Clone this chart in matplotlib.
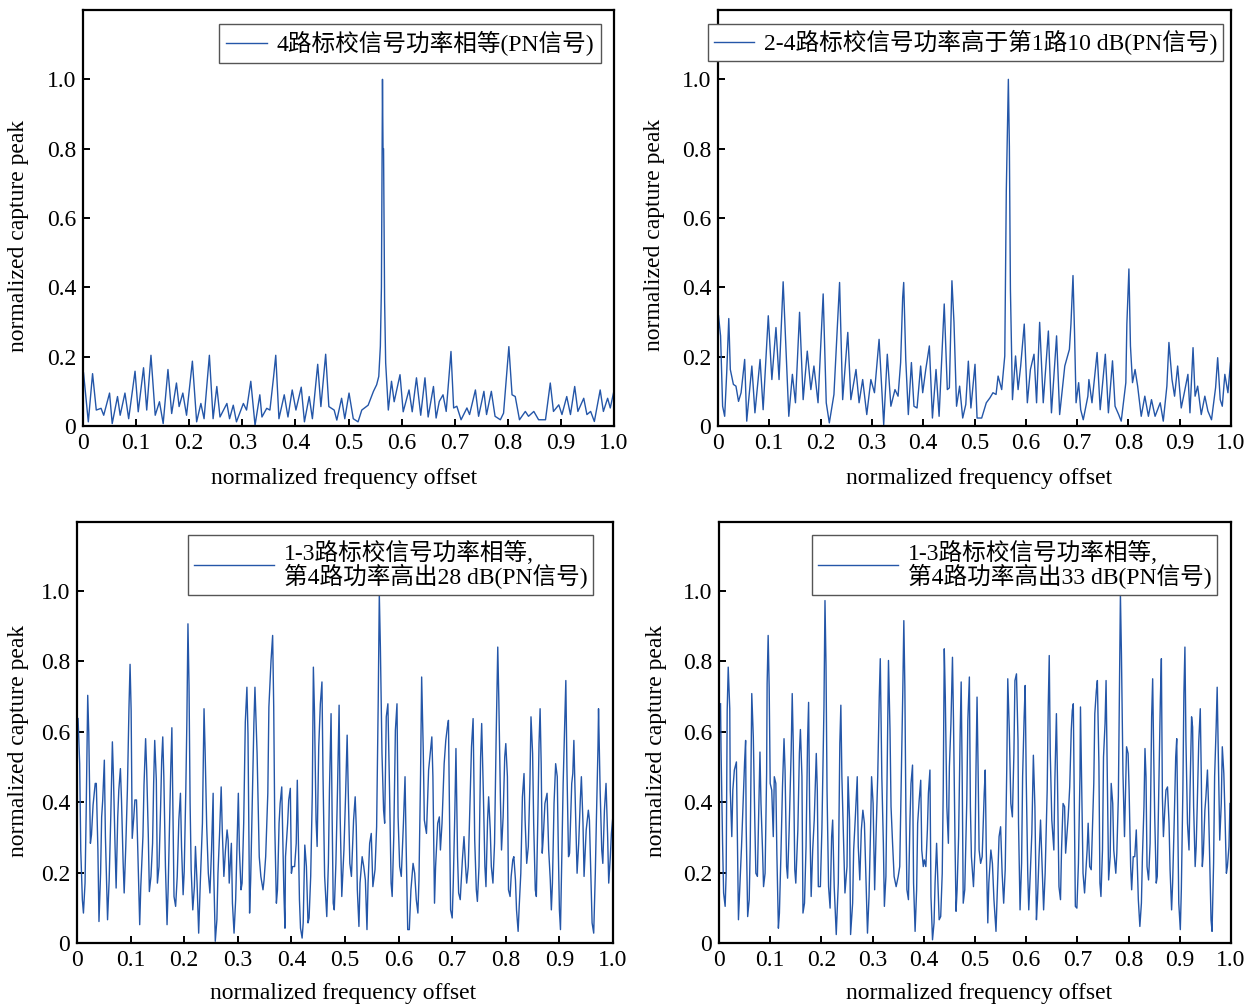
import matplotlib
matplotlib.use('Agg')
import matplotlib.pyplot as plt

# ---------------- data ----------------
x_ticks = [0, 0.1, 0.2, 0.3, 0.4, 0.5, 0.6, 0.7, 0.8, 0.9, 1.0]
x_tick_labels = ['0', '0.1', '0.2', '0.3', '0.4', '0.5', '0.6', '0.7', '0.8', '0.9', '1.0']
y_ticks = [0, 0.2, 0.4, 0.6, 0.8, 1.0]
y_tick_labels = ['0', '0.2', '0.4', '0.6', '0.8', '1.0']
x_label = 'normalized frequency offset'
y_label = 'normalized capture peak'
legend_labels = [
    '4路标校信号功率相等(PN信号)',
    '2-4路标校信号功率高于第1路10 dB(PN信号)',
    '1-3路标校信号功率相等,\n第4路功率高出28 dB(PN信号)',
    '1-3路标校信号功率相等,\n第4路功率高出33 dB(PN信号)',
]

p1_x = [0.001,0.010,0.018,0.025,0.034,0.039,0.050,0.055,0.065,0.070,
        0.079,0.086,0.098,0.104,0.114,0.120,0.128,0.136,0.144,0.151,
        0.160,0.167,0.176,0.181,0.188,0.195,0.206,0.214,0.222,0.228,
        0.238,0.245,0.252,0.258,0.271,0.276,0.283,0.289,0.302,0.308,
        0.316,0.324,0.333,0.337,0.346,0.352,0.359,0.363,0.369,0.379,
        0.386,0.394,0.401,0.411,0.417,0.426,0.432,0.442,0.448,0.457,
        0.463,0.473,0.478,0.487,0.493,0.501,0.509,0.518,0.525,0.537,
        0.547,0.553,0.557,0.560,0.562,0.564,0.565,0.566,0.568,0.570,
        0.575,0.581,0.586,0.597,0.603,0.614,0.620,0.628,0.636,0.644,
        0.650,0.660,0.665,0.671,0.678,0.684,0.693,0.698,0.704,0.712,
        0.723,0.728,0.739,0.745,0.755,0.760,0.769,0.776,0.786,0.792,
        0.802,0.808,0.814,0.822,0.833,0.839,0.849,0.858,0.871,0.880,
        0.886,0.896,0.902,0.911,0.918,0.926,0.932,0.943,0.949,0.956,
        0.963,0.974,0.980,0.988,0.993,0.999]
p1_y = [0.153,0.012,0.151,0.046,0.051,0.031,0.095,0.007,0.085,0.031,
        0.095,0.021,0.158,0.041,0.168,0.046,0.204,0.031,0.070,0.007,
        0.163,0.036,0.124,0.056,0.095,0.031,0.187,0.012,0.065,0.021,
        0.204,0.021,0.114,0.026,0.065,0.021,0.060,0.012,0.065,0.046,
        0.129,0.002,0.090,0.026,0.051,0.046,0.143,0.204,0.021,0.090,
        0.026,0.104,0.046,0.112,0.012,0.085,0.021,0.178,0.056,0.207,
        0.056,0.046,0.017,0.080,0.021,0.095,0.021,0.012,0.046,0.060,
        0.100,0.119,0.143,0.230,0.400,1.000,0.800,0.800,0.360,0.182,
        0.046,0.129,0.070,0.148,0.041,0.104,0.041,0.139,0.031,0.139,
        0.026,0.114,0.023,0.071,0.090,0.042,0.215,0.052,0.057,0.018,
        0.052,0.033,0.104,0.028,0.100,0.033,0.100,0.028,0.018,0.037,
        0.229,0.090,0.085,0.018,0.042,0.028,0.042,0.018,0.018,0.124,
        0.042,0.061,0.033,0.085,0.033,0.114,0.042,0.080,0.033,0.042,
        0.013,0.104,0.042,0.080,0.052,0.095]

p2_x = [0.001,0.005,0.009,0.013,0.017,0.021,0.024,0.030,0.035,0.040,
        0.045,0.052,0.056,0.066,0.072,0.082,0.088,0.098,0.105,0.113,
        0.119,0.127,0.134,0.138,0.145,0.151,0.159,0.166,0.174,0.181,
        0.187,0.195,0.205,0.211,0.217,0.226,0.237,0.243,0.253,0.259,
        0.269,0.275,0.282,0.290,0.298,0.305,0.314,0.323,0.330,0.337,
        0.345,0.351,0.356,0.360,0.362,0.366,0.371,0.377,0.382,0.388,
        0.395,0.399,0.405,0.412,0.418,0.425,0.431,0.437,0.441,0.447,
        0.451,0.456,0.460,0.465,0.471,0.477,0.483,0.488,0.493,0.501,
        0.505,0.514,0.523,0.530,0.536,0.542,0.546,0.553,0.559,0.562,
        0.566,0.568,0.570,0.574,0.580,0.585,0.590,0.597,0.603,0.609,
        0.616,0.621,0.627,0.634,0.644,0.650,0.660,0.666,0.676,0.685,
        0.688,0.692,0.695,0.698,0.703,0.707,0.712,0.721,0.723,0.729,
        0.739,0.745,0.755,0.761,0.769,0.774,0.781,0.786,0.795,0.797,
        0.801,0.804,0.808,0.813,0.818,0.825,0.832,0.839,0.845,0.852,
        0.862,0.868,0.875,0.879,0.885,0.890,0.896,0.903,0.909,0.916,
        0.920,0.926,0.930,0.935,0.942,0.949,0.955,0.962,0.970,0.974,
        0.979,0.983,0.988,0.994,0.999]
p2_y = [0.318,0.260,0.057,0.028,0.154,0.310,0.163,0.120,0.115,0.071,
        0.096,0.192,0.014,0.173,0.038,0.192,0.047,0.318,0.134,0.284,
        0.134,0.416,0.173,0.028,0.149,0.067,0.328,0.076,0.216,0.105,
        0.173,0.067,0.381,0.067,0.009,0.091,0.414,0.076,0.270,0.076,
        0.163,0.067,0.134,0.033,0.134,0.096,0.250,0.004,0.207,0.057,
        0.105,0.086,0.183,0.371,0.414,0.192,0.033,0.183,0.057,0.052,
        0.173,0.096,0.163,0.231,0.023,0.163,0.028,0.221,0.352,0.105,
        0.110,0.419,0.299,0.057,0.115,0.023,0.062,0.187,0.052,0.178,
        0.023,0.023,0.067,0.081,0.096,0.091,0.144,0.105,0.202,0.680,
        1.000,0.806,0.395,0.076,0.202,0.105,0.173,0.294,0.067,0.163,
        0.207,0.067,0.299,0.067,0.274,0.038,0.260,0.033,0.173,0.221,
        0.294,0.434,0.269,0.067,0.125,0.047,0.018,0.086,0.134,0.067,
        0.212,0.047,0.207,0.038,0.188,0.057,0.033,0.014,0.125,0.294,
        0.453,0.231,0.125,0.163,0.115,0.028,0.086,0.028,0.076,0.028,
        0.067,0.014,0.115,0.241,0.134,0.086,0.173,0.052,0.096,0.149,
        0.038,0.226,0.086,0.115,0.033,0.086,0.043,0.018,0.111,0.197,
        0.076,0.057,0.149,0.096,0.182]

p3_x = [0.002,0.005,0.007,0.010,0.012,0.015,0.017,0.020,0.022,0.025,
        0.027,0.030,0.034,0.036,0.039,0.041,0.044,0.046,0.048,0.051,
        0.053,0.057,0.060,0.063,0.066,0.068,0.071,0.073,0.076,0.078,
        0.081,0.083,0.086,0.088,0.091,0.094,0.097,0.099,0.101,0.103,
        0.106,0.108,0.111,0.114,0.117,0.119,0.123,0.125,0.128,0.130,
        0.133,0.135,0.138,0.141,0.143,0.145,0.148,0.150,0.153,0.156,
        0.158,0.160,0.162,0.165,0.168,0.170,0.173,0.175,0.177,0.179,
        0.181,0.184,0.187,0.190,0.193,0.195,0.198,0.200,0.203,0.205,
        0.207,0.209,0.211,0.213,0.216,0.219,0.221,0.224,0.227,0.230,
        0.234,0.237,0.239,0.242,0.245,0.248,0.251,0.254,0.255,0.258,
        0.261,0.263,0.266,0.269,0.271,0.274,0.277,0.280,0.282,0.284,
        0.288,0.290,0.293,0.296,0.299,0.301,0.303,0.306,0.308,0.311,
        0.314,0.317,0.319,0.322,0.324,0.327,0.330,0.332,0.336,0.340,
        0.343,0.347,0.349,0.352,0.356,0.358,0.362,0.365,0.367,0.369,
        0.372,0.374,0.377,0.379,0.382,0.386,0.388,0.389,0.393,0.395,
        0.398,0.400,0.402,0.406,0.409,0.411,0.415,0.417,0.420,0.422,
        0.425,0.428,0.431,0.433,0.436,0.439,0.441,0.443,0.446,0.448,
        0.451,0.454,0.457,0.459,0.462,0.466,0.469,0.471,0.474,0.476,
        0.478,0.480,0.483,0.486,0.489,0.491,0.494,0.498,0.501,0.504,
        0.506,0.509,0.512,0.516,0.519,0.521,0.523,0.526,0.528,0.532,
        0.535,0.538,0.541,0.543,0.546,0.549,0.552,0.556,0.559,0.562,
        0.564,0.566,0.569,0.572,0.574,0.577,0.580,0.583,0.586,0.588,
        0.591,0.594,0.597,0.599,0.602,0.605,0.609,0.612,0.614,0.617,
        0.620,0.623,0.627,0.630,0.633,0.636,0.638,0.641,0.643,0.646,
        0.648,0.652,0.656,0.662,0.664,0.667,0.669,0.673,0.676,0.678,
        0.681,0.685,0.688,0.691,0.693,0.695,0.697,0.700,0.702,0.705,
        0.707,0.710,0.712,0.715,0.719,0.722,0.725,0.727,0.730,0.733,
        0.736,0.739,0.742,0.745,0.747,0.750,0.753,0.755,0.758,0.761,
        0.763,0.766,0.768,0.771,0.773,0.776,0.779,0.782,0.785,0.787,
        0.790,0.792,0.795,0.798,0.800,0.803,0.805,0.808,0.810,0.813,
        0.815,0.818,0.820,0.823,0.825,0.828,0.831,0.834,0.836,0.839,
        0.842,0.845,0.847,0.850,0.852,0.855,0.857,0.860,0.862,0.864,
        0.866,0.868,0.870,0.873,0.877,0.880,0.883,0.885,0.887,0.890,
        0.893,0.896,0.898,0.900,0.902,0.904,0.907,0.910,0.912,0.914,
        0.917,0.919,0.923,0.925,0.927,0.930,0.933,0.936,0.939,0.941,
        0.944,0.946,0.950,0.954,0.956,0.959,0.961,0.964,0.967,0.969,
        0.972,0.973,0.976,0.979,0.981,0.984,0.987,0.990,0.992,0.995,
        0.997,1.000]
p3_y = [0.637,0.509,0.264,0.123,0.085,0.170,0.358,0.703,0.594,0.283,
        0.307,0.392,0.453,0.453,0.264,0.061,0.198,0.358,0.406,0.519,
        0.302,0.066,0.179,0.358,0.571,0.472,0.274,0.156,0.358,0.434,
        0.495,0.406,0.231,0.142,0.274,0.434,0.670,0.791,0.660,0.297,
        0.358,0.406,0.406,0.226,0.052,0.160,0.302,0.448,0.580,0.491,
        0.307,0.146,0.189,0.283,0.453,0.575,0.462,0.170,0.217,0.387,
        0.519,0.585,0.472,0.217,0.052,0.151,0.358,0.500,0.611,0.377,
        0.132,0.104,0.189,0.349,0.425,0.274,0.137,0.203,0.434,0.632,
        0.906,0.731,0.396,0.208,0.094,0.160,0.274,0.170,0.028,0.170,
        0.340,0.665,0.547,0.330,0.198,0.142,0.264,0.425,0.208,0.005,
        0.066,0.198,0.311,0.443,0.321,0.189,0.264,0.321,0.292,0.170,
        0.283,0.113,0.028,0.123,0.302,0.425,0.264,0.151,0.170,0.340,
        0.627,0.726,0.594,0.085,0.179,0.406,0.623,0.726,0.538,0.245,
        0.189,0.151,0.179,0.245,0.425,0.670,0.802,0.873,0.670,0.330,
        0.113,0.151,0.340,0.396,0.443,0.142,0.042,0.245,0.340,0.406,
        0.439,0.198,0.217,0.217,0.283,0.462,0.123,0.042,0.014,0.057,
        0.278,0.217,0.057,0.071,0.189,0.425,0.783,0.660,0.349,0.274,
        0.557,0.679,0.741,0.472,0.189,0.075,0.226,0.434,0.651,0.358,
        0.113,0.094,0.226,0.434,0.675,0.358,0.132,0.264,0.415,0.590,
        0.434,0.226,0.189,0.349,0.415,0.330,0.151,0.047,0.170,0.245,
        0.217,0.179,0.038,0.170,0.283,0.311,0.160,0.208,0.330,0.689,
        0.991,0.840,0.538,0.377,0.340,0.642,0.679,0.443,0.170,0.132,
        0.302,0.604,0.679,0.358,0.217,0.189,0.340,0.472,0.283,0.038,
        0.038,0.151,0.226,0.198,0.123,0.085,0.179,0.481,0.755,0.547,
        0.349,0.311,0.491,0.585,0.472,0.113,0.217,0.340,0.358,0.264,
        0.340,0.509,0.575,0.613,0.632,0.358,0.094,0.071,0.170,0.377,
        0.552,0.245,0.142,0.123,0.236,0.302,0.217,0.170,0.217,0.387,
        0.557,0.637,0.292,0.151,0.118,0.217,0.528,0.623,0.434,0.217,
        0.160,0.349,0.415,0.321,0.217,0.170,0.283,0.585,0.840,0.689,
        0.406,0.264,0.358,0.528,0.566,0.472,0.151,0.132,0.189,0.236,
        0.245,0.179,0.094,0.033,0.104,0.198,0.415,0.481,0.349,0.226,
        0.274,0.453,0.642,0.538,0.340,0.151,0.132,0.377,0.566,0.665,
        0.509,0.255,0.302,0.396,0.425,0.264,0.179,0.094,0.170,0.396,
        0.509,0.472,0.264,0.094,0.038,0.198,0.453,0.623,0.745,0.500,
        0.245,0.255,0.453,0.481,0.575,0.377,0.198,0.283,0.406,0.472,
        0.340,0.189,0.321,0.377,0.349,0.170,0.057,0.028,0.198,0.349,
        0.557,0.665,0.434,0.264,0.226,0.377,0.453,0.302,0.170,0.245,
        0.311,0.363]

p4_x = [0.003,0.004,0.007,0.009,0.012,0.014,0.016,0.018,0.021,0.022,
        0.025,0.027,0.030,0.034,0.036,0.038,0.041,0.044,0.047,0.050,
        0.052,0.053,0.056,0.059,0.061,0.064,0.067,0.070,0.072,0.075,
        0.078,0.080,0.082,0.085,0.087,0.090,0.093,0.094,0.096,0.098,
        0.100,0.103,0.106,0.108,0.111,0.113,0.116,0.118,0.121,0.124,
        0.127,0.129,0.132,0.134,0.137,0.141,0.143,0.145,0.148,0.150,
        0.154,0.157,0.159,0.162,0.164,0.167,0.170,0.173,0.175,0.177,
        0.180,0.183,0.186,0.190,0.192,0.194,0.198,0.201,0.205,0.207,
        0.209,0.211,0.214,0.217,0.220,0.222,0.225,0.229,0.233,0.236,
        0.238,0.240,0.244,0.246,0.250,0.252,0.255,0.257,0.261,0.263,
        0.266,0.270,0.272,0.275,0.278,0.281,0.284,0.287,0.290,0.293,
        0.296,0.298,0.301,0.304,0.307,0.310,0.313,0.315,0.318,0.321,
        0.323,0.326,0.328,0.331,0.334,0.336,0.339,0.342,0.346,0.350,
        0.353,0.356,0.359,0.361,0.363,0.365,0.367,0.370,0.373,0.375,
        0.378,0.380,0.383,0.386,0.388,0.391,0.394,0.396,0.399,0.401,
        0.404,0.407,0.409,0.412,0.414,0.417,0.420,0.422,0.425,0.427,
        0.430,0.433,0.436,0.438,0.440,0.442,0.445,0.448,0.450,0.453,
        0.456,0.458,0.461,0.463,0.465,0.468,0.471,0.473,0.475,0.477,
        0.480,0.484,0.486,0.489,0.491,0.493,0.497,0.500,0.502,0.504,
        0.506,0.508,0.511,0.514,0.518,0.520,0.522,0.525,0.527,0.531,
        0.534,0.537,0.541,0.544,0.547,0.550,0.553,0.556,0.559,0.562,
        0.564,0.567,0.570,0.573,0.576,0.578,0.581,0.584,0.585,0.588,
        0.591,0.593,0.596,0.598,0.600,0.603,0.605,0.608,0.611,0.614,
        0.617,0.620,0.622,0.625,0.628,0.631,0.634,0.637,0.641,0.643,
        0.645,0.647,0.650,0.654,0.656,0.659,0.661,0.664,0.667,0.669,
        0.672,0.675,0.677,0.682,0.685,0.688,0.690,0.692,0.694,0.696,
        0.699,0.702,0.705,0.706,0.709,0.711,0.714,0.716,0.719,0.721,
        0.724,0.727,0.729,0.732,0.734,0.737,0.739,0.742,0.744,0.746,
        0.749,0.751,0.754,0.756,0.759,0.761,0.764,0.766,0.769,0.771,
        0.775,0.777,0.780,0.782,0.784,0.786,0.789,0.792,0.794,0.796,
        0.799,0.801,0.804,0.806,0.809,0.812,0.815,0.817,0.819,0.822,
        0.825,0.827,0.830,0.832,0.834,0.836,0.839,0.842,0.845,0.847,
        0.849,0.851,0.854,0.856,0.859,0.862,0.864,0.866,0.868,0.871,
        0.873,0.876,0.879,0.881,0.884,0.886,0.889,0.892,0.894,0.896,
        0.898,0.901,0.903,0.906,0.908,0.910,0.912,0.915,0.918,0.920,
        0.923,0.925,0.927,0.930,0.932,0.934,0.937,0.940,0.942,0.944,
        0.946,0.949,0.951,0.954,0.956,0.959,0.961,0.963,0.966,0.968,
        0.971,0.973,0.976,0.978,0.981,0.983,0.986,0.988,0.991,0.993,
        0.996,0.998]
p4_y = [0.679,0.547,0.283,0.142,0.104,0.198,0.660,0.783,0.665,0.434,
        0.302,0.434,0.491,0.514,0.283,0.066,0.170,0.274,0.396,0.514,
        0.575,0.340,0.075,0.123,0.274,0.708,0.585,0.340,0.198,0.189,
        0.396,0.542,0.396,0.264,0.160,0.198,0.481,0.736,0.873,0.726,
        0.453,0.434,0.302,0.472,0.453,0.255,0.042,0.085,0.255,0.443,
        0.580,0.491,0.217,0.184,0.321,0.547,0.708,0.566,0.208,0.170,
        0.321,0.538,0.606,0.472,0.085,0.113,0.274,0.575,0.683,0.387,
        0.132,0.264,0.349,0.538,0.434,0.160,0.160,0.325,0.670,0.972,
        0.788,0.434,0.160,0.099,0.302,0.349,0.160,0.024,0.170,0.566,
        0.675,0.472,0.245,0.142,0.217,0.472,0.349,0.024,0.113,0.264,
        0.349,0.472,0.274,0.179,0.321,0.377,0.340,0.189,0.028,0.132,
        0.321,0.472,0.396,0.151,0.321,0.472,0.698,0.807,0.472,0.283,
        0.104,0.189,0.443,0.802,0.604,0.387,0.283,0.189,0.160,0.189,
        0.217,0.462,0.717,0.915,0.726,0.377,0.151,0.123,0.349,0.453,
        0.505,0.170,0.033,0.151,0.340,0.406,0.462,0.264,0.217,0.236,
        0.217,0.321,0.425,0.491,0.132,0.009,0.057,0.170,0.283,0.198,
        0.066,0.075,0.198,0.443,0.835,0.698,0.387,0.283,0.500,0.623,
        0.811,0.632,0.283,0.090,0.151,0.302,0.594,0.741,0.472,0.113,
        0.151,0.406,0.632,0.755,0.387,0.245,0.160,0.264,0.500,0.698,
        0.500,0.264,0.226,0.245,0.425,0.491,0.264,0.057,0.170,0.264,
        0.226,0.123,0.033,0.170,0.302,0.330,0.198,0.113,0.208,0.491,
        0.750,0.604,0.396,0.358,0.538,0.745,0.764,0.575,0.340,0.094,
        0.226,0.472,0.642,0.731,0.472,0.198,0.094,0.198,0.311,0.533,
        0.387,0.066,0.123,0.245,0.349,0.217,0.094,0.198,0.434,0.670,
        0.816,0.538,0.349,0.264,0.462,0.651,0.472,0.160,0.123,0.264,
        0.396,0.387,0.255,0.358,0.443,0.604,0.660,0.679,0.387,0.104,
        0.099,0.226,0.472,0.670,0.387,0.198,0.142,0.189,0.264,0.340,
        0.217,0.208,0.302,0.453,0.651,0.717,0.745,0.509,0.170,0.132,
        0.264,0.528,0.623,0.745,0.415,0.179,0.245,0.453,0.396,0.264,
        0.198,0.255,0.415,0.689,0.991,0.821,0.481,0.302,0.434,0.557,
        0.538,0.434,0.217,0.151,0.245,0.245,0.321,0.226,0.123,0.047,
        0.113,0.245,0.387,0.552,0.472,0.217,0.179,0.283,0.642,0.750,
        0.538,0.358,0.170,0.189,0.434,0.689,0.807,0.415,0.302,0.387,
        0.434,0.443,0.340,0.208,0.094,0.170,0.340,0.528,0.580,0.358,
        0.113,0.038,0.151,0.434,0.708,0.840,0.575,0.340,0.264,0.434,
        0.642,0.613,0.387,0.217,0.274,0.387,0.571,0.665,0.472,0.217,
        0.255,0.377,0.415,0.491,0.396,0.198,0.066,0.033,0.226,0.472,
        0.613,0.726,0.472,0.292,0.396,0.557,0.481,0.377,0.198,0.217,
        0.274,0.396]

# ---------------- style ----------------
plt.rcParams['font.family'] = ['Liberation Serif', 'Noto Sans CJK SC']
plt.rcParams['font.size'] = 17
LINE_COLOR = '#2456a8'

W, H = 1254, 1006
fig = plt.figure(figsize=(W / 100, H / 100), dpi=100)


def rect(l, t, r, b):
    return [l / W, 1 - b / H, (r - l) / W, (b - t) / H]


panels = [
    dict(box=rect(83, 10, 614, 426), x=p1_x, y=p1_y, ytop=1.2,
         leg=(0.975, 0.966), hl=1.7, bp=0.3, ylc=(-0.122, 0.457), xlc=(0.492, -0.127)),
    dict(box=rect(718, 10, 1231, 426), x=p2_x, y=p2_y, ytop=1.2,
         leg=(0.984, 0.966), hl=1.7, bp=0.25, ylc=(-0.123, 0.46), xlc=(0.508, -0.127)),
    dict(box=rect(77, 522, 613, 943), x=p3_x, y=p3_y, ytop=1.195,
         leg=(0.963, 0.969), hl=3.4, bp=0.25, ylc=(-0.110, 0.48), xlc=(0.497, -0.119)),
    dict(box=rect(719, 522, 1231, 943), x=p4_x, y=p4_y, ytop=1.195,
         leg=(0.973, 0.969), hl=3.4, bp=0.25, ylc=(-0.123, 0.48), xlc=(0.508, -0.119)),
]

for p, lab in zip(panels, legend_labels):
    ax = fig.add_axes(p['box'])
    n = min(len(p['x']), len(p['y']))
    ax.plot(p['x'][:n], p['y'][:n], color=LINE_COLOR, lw=1.0, label=lab)
    ax.set_xlim(0, 1.0)
    ax.set_ylim(0, p['ytop'])
    ax.set_xticks(x_ticks)
    ax.set_xticklabels(x_tick_labels)
    ax.set_yticks(y_ticks)
    ax.set_yticklabels(y_tick_labels)
    ax.tick_params(direction='in', length=5, width=1.4, labelsize=17,
                   top=False, right=False, pad=5)
    for s in ax.spines.values():
        s.set_linewidth(1.6)
        s.set_color('black')
    ax.set_xlabel(x_label, fontsize=17, va='center')
    ax.set_ylabel(y_label, fontsize=17, va='center')
    ax.xaxis.set_label_coords(*p['xlc'])
    ax.yaxis.set_label_coords(*p['ylc'])
    leg = ax.legend(loc='upper right', bbox_to_anchor=p['leg'],
                    frameon=True, fancybox=False, edgecolor='#555555',
                    framealpha=1, borderpad=p['bp'], handlelength=p['hl'],
                    handletextpad=0.4, borderaxespad=0, fontsize=17,
                    labelspacing=0.1)
    leg.get_frame().set_linewidth(1.0)
    for t in leg.get_texts():
        t.set_linespacing(0.95)

fig.savefig('out.png', dpi=100)
